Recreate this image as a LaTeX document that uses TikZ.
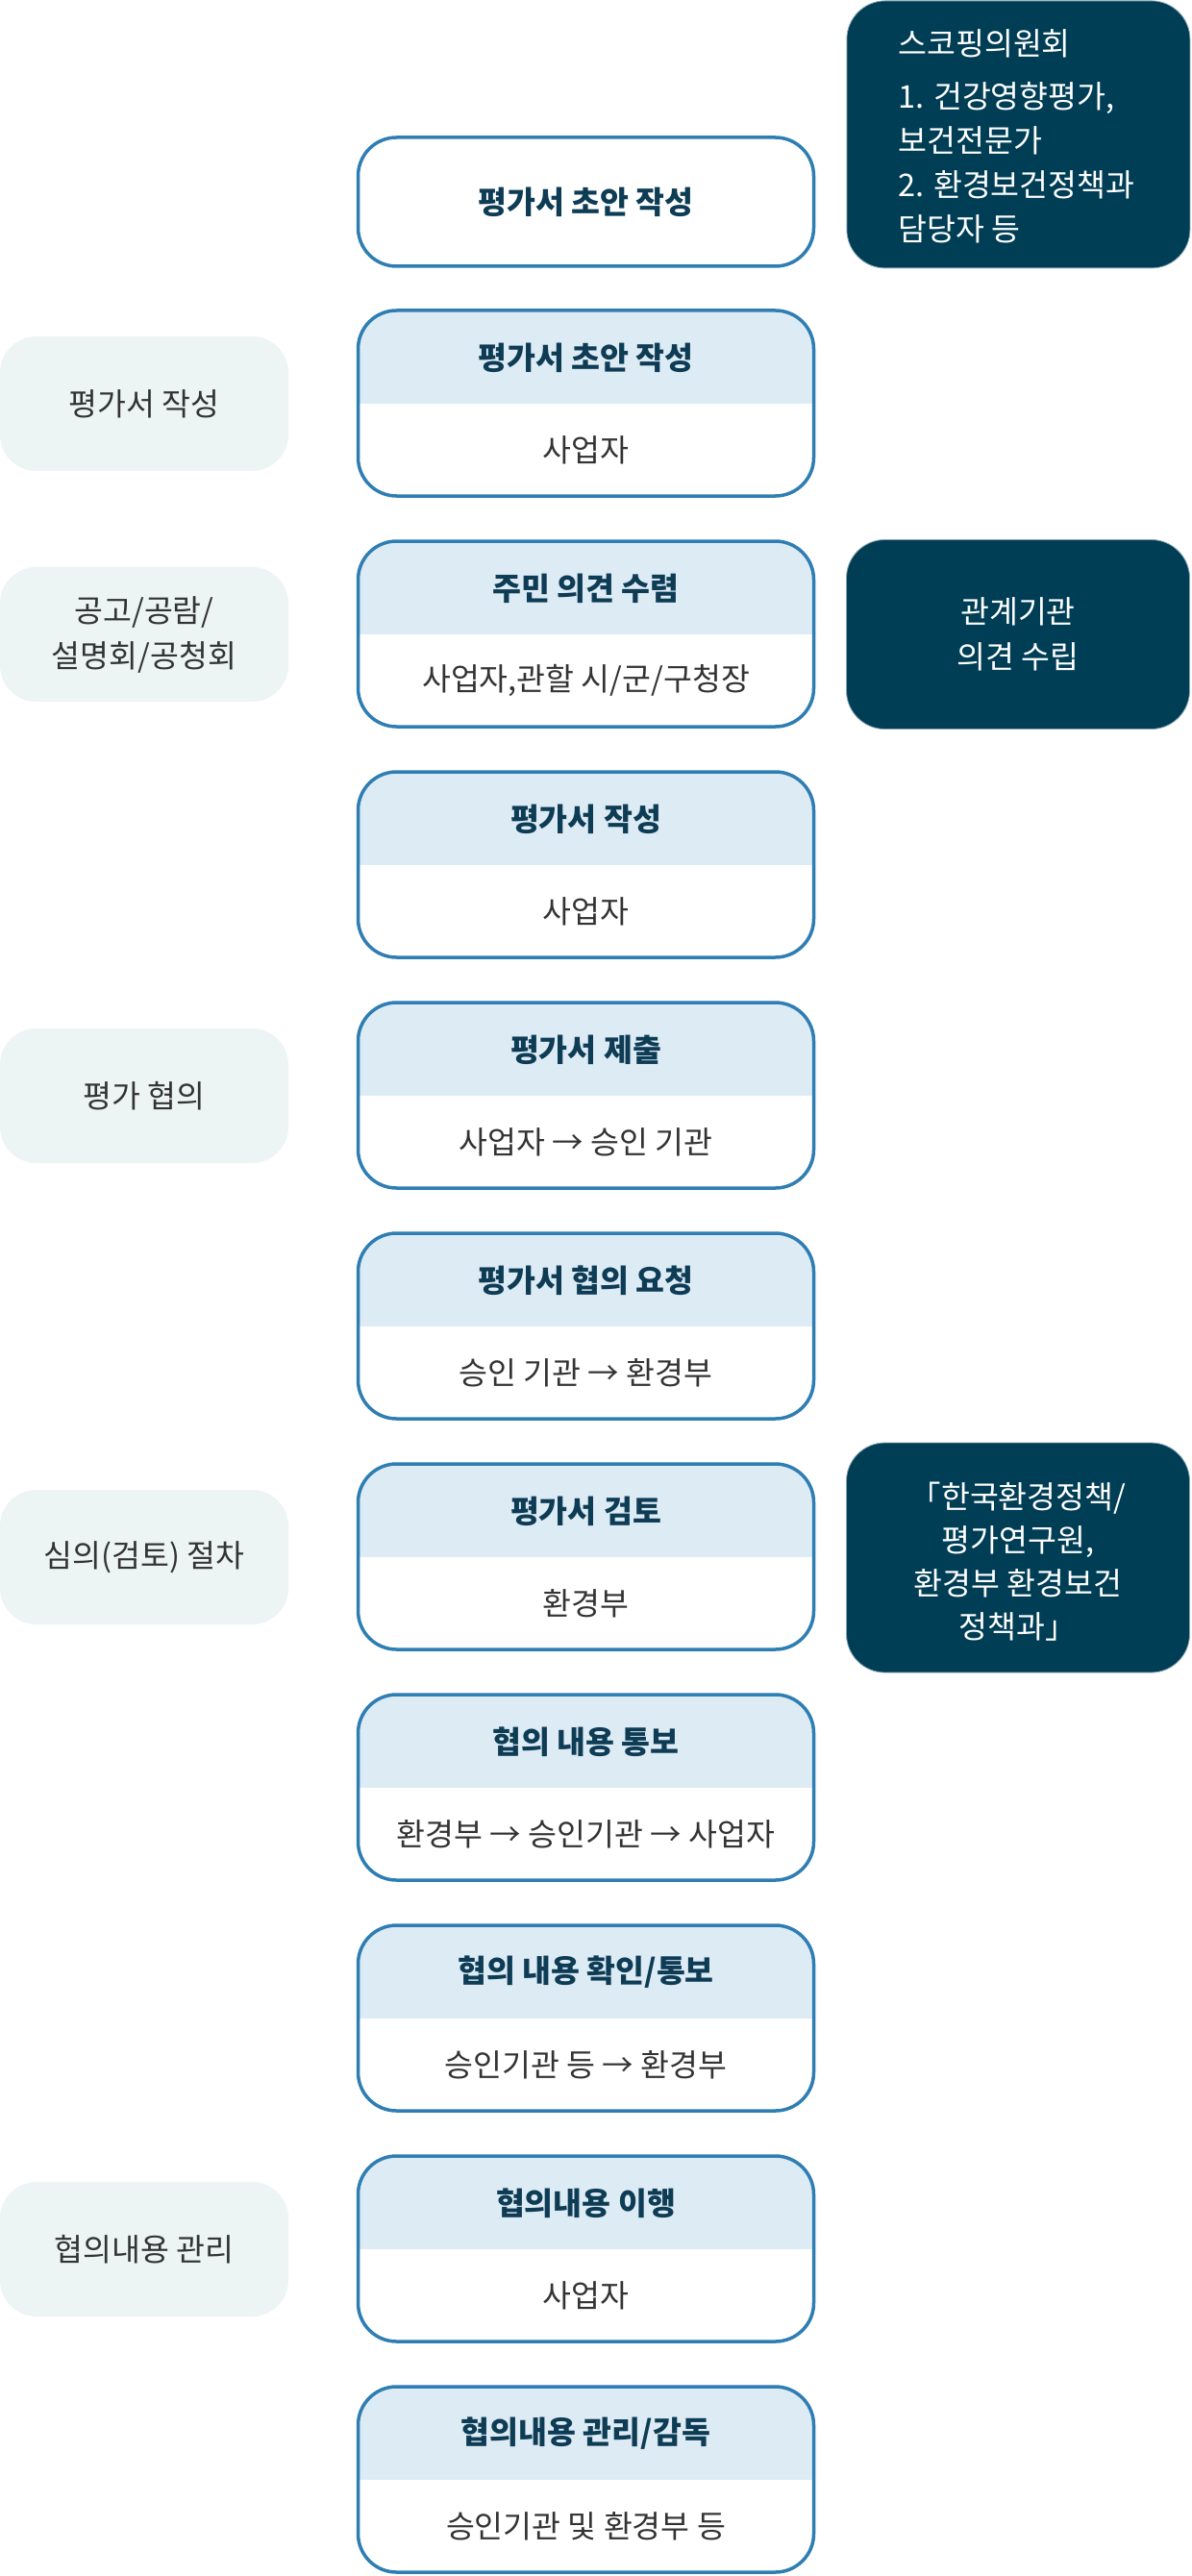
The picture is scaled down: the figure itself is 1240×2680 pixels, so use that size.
\documentclass[tikz,border=0pt]{standalone}
\usepackage{fontspec}
\setmainfont{Noto Sans CJK KR}
\definecolor{bordc}{HTML}{2F7EB3}
\definecolor{hdrc}{HTML}{DDEBF5}
\definecolor{hdrtxt}{HTML}{0E3C55}
\definecolor{bodytxt}{HTML}{333333}
\definecolor{leftc}{HTML}{ECF4F4}
\definecolor{darkc}{HTML}{003E56}
\definecolor{darkedge}{HTML}{8AA6B4}
\tikzset{
  mainbox/.style={draw=none, minimum width=237pt, minimum height=96.5pt, inner sep=0pt, outer sep=0pt},
  bordline/.style={draw=bordc, line width=1.75pt, rounded corners=20pt},
  hdrtext/.style={text=hdrtxt, font=\fontsize{16.25pt}{23.5pt}\selectfont\bfseries, inner sep=0pt},
  bodytext/.style={text=bodytxt, font=\fontsize{16.25pt}{23.5pt}\selectfont, inner sep=0pt},
  leftbox/.style={fill=leftc, draw=none, rounded corners=19pt, minimum width=150pt, minimum height=70pt, inner sep=0pt, align=center, text=bodytxt, font=\fontsize{16.25pt}{23.5pt}\selectfont},
  darkbox/.style={fill=darkc, draw=darkedge, line width=0.4pt, rounded corners=20pt, inner sep=0pt},
  darktext/.style={text=white, font=\fontsize{16.25pt}{23.5pt}\selectfont, align=center, inner sep=0pt},
}
\newcommand\flowbox[4]{%
  \node[mainbox, anchor=north] (#1) at (609.5,#2) {};
  \begin{scope}
    \clip[rounded corners=20pt] (#1.south west) rectangle (#1.north east);
    \fill[white] (#1.south west) rectangle (#1.north east);
    \fill[hdrc] (#1.north west) rectangle ([yshift=-48.5pt]#1.north east);
  \end{scope}
  \draw[bordline] (#1.south west) rectangle (#1.north east);
  \node[hdrtext] (#1h) at ([yshift=-24.5pt]#1.north) {#3};
  \node[bodytext] (#1b) at ([yshift=24pt]#1.south) {#4};
}
\begin{document}
\begin{tikzpicture}[x=0.5pt, y=-0.5pt]
\useasboundingbox (0,0) rectangle (1240,2680);
\fill[white] (0,0) rectangle (1240,2680);

% top-right scoping committee box
\node[darkbox, minimum width=178.5pt, minimum height=139pt, anchor=north west] (scope1) at (880.5,0.5) {};
\node[text=white, font=\fontsize{16.25pt}{23pt}\selectfont, align=left, inner sep=0pt, anchor=west] (scope1t) at (934,142) {스코핑의원회\\[4.5pt]1. 건강영향평가,\\보건전문가\\2. 환경보건정책과\\담당자 등};

% top white box
\node[mainbox, minimum height=67pt, anchor=north] (b0) at (609.5,143) {};
\draw[bordline, fill=white] (b0.south west) rectangle (b0.north east);
\node[hdrtext] (b0h) at (b0.center) {평가서 초안 작성};

\flowbox{b1}{323}{평가서 초안 작성}{사업자}
\flowbox{b2}{563}{주민 의견 수렴}{사업자,관할 시/군/구청장}
\flowbox{b3}{803}{평가서 작성}{사업자}
\flowbox{b4}{1043}{평가서 제출}{사업자 → 승인 기관}
\flowbox{b5}{1283}{평가서 협의 요청}{승인 기관 → 환경부}
\flowbox{b6}{1523}{평가서 검토}{환경부}
\flowbox{b7}{1763}{협의 내용 통보}{환경부 → 승인기관 → 사업자}
\flowbox{b8}{2003}{협의 내용 확인/통보}{승인기관 등 → 환경부}
\flowbox{b9}{2243}{협의내용 이행}{사업자}
\flowbox{b10}{2483}{협의내용 관리/감독}{승인기관 및 환경부 등}

% left stage boxes
\node[leftbox] (l1) at (150,420) {평가서 작성};
\node[leftbox] (l2) at (150,660) {공고/공람/\\설명회/공청회};
\node[leftbox] (l3) at (150,1140) {평가 협의};
\node[leftbox] (l4) at (150,1620) {심의(검토) 절차};
\node[leftbox] (l5) at (150,2340) {협의내용 관리};

% right dark boxes
\node[darkbox, minimum width=178.5pt, minimum height=98.5pt] (d2) at (1059,660) {};
\node[darktext] (d2t) at (d2.center) {관계기관\\의견 수립};
\node[darkbox, minimum width=178.5pt, minimum height=119.5pt] (d3) at (1059,1620.5) {};
\node[darktext, font=\fontsize{16.25pt}{22.5pt}\selectfont] (d3t) at ([yshift=-2pt]d3.center) {「한국환경정책/\\평가연구원,\\환경부 환경보건\\정책과」};
\end{tikzpicture}
\end{document}
